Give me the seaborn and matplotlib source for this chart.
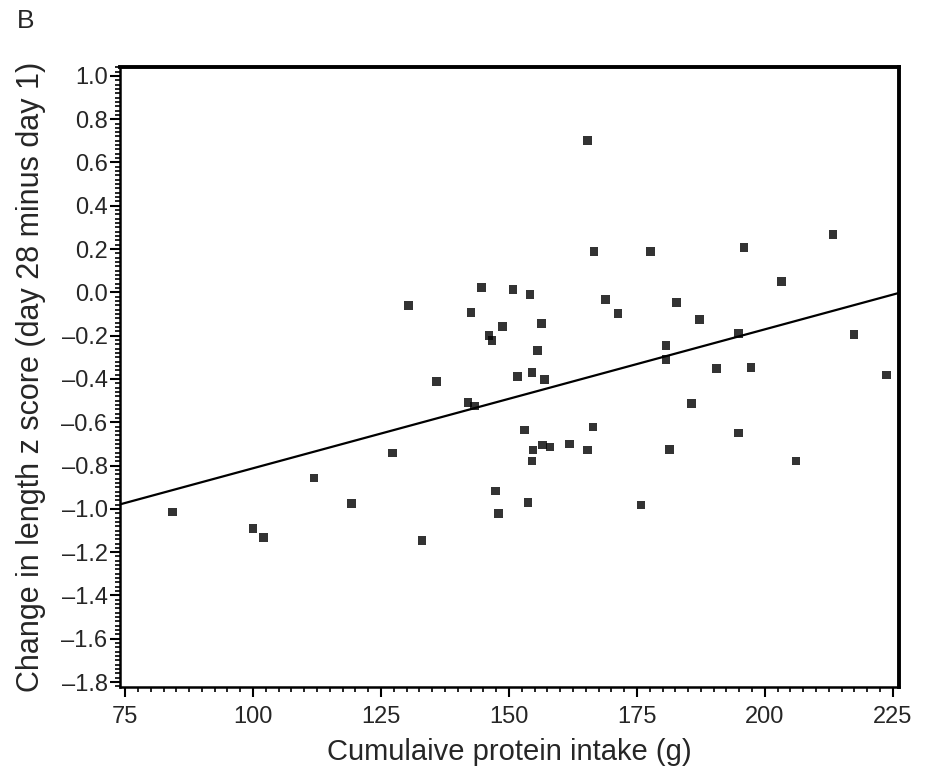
import matplotlib
matplotlib.use("Agg")
import matplotlib.pyplot as plt
from matplotlib.ticker import MultipleLocator
import seaborn as sns
import pandas as pd

protein_intake = [84.2, 100.0, 102.0, 111.9, 119.3, 127.3, 133.0, 135.9, 130.3,
                  165.4, 166.6, 177.7, 195.9, 213.3, 203.3, 144.7, 150.8, 154.1,
                  142.6, 168.8, 171.3, 182.8, 187.3, 217.4, 148.8, 156.4, 146.1,
                  146.7, 155.5, 180.7, 180.7, 194.9, 190.6, 197.3, 223.8, 151.6,
                  154.5, 157.0, 142.0, 143.2, 185.7, 153.1, 166.4, 194.9, 154.7,
                  156.6, 158.0, 161.9, 165.4, 181.4, 154.5, 206.1, 147.3, 153.7,
                  147.9, 175.8]
z_change = [-1.014, -1.092, -1.134, -0.857, -0.977, -0.742, -1.147, -0.410, -0.060,
            0.700, 0.189, 0.189, 0.207, 0.267, 0.051, 0.023, 0.014, -0.009,
            -0.092, -0.032, -0.097, -0.046, -0.124, -0.194, -0.157, -0.143, -0.198,
            -0.221, -0.267, -0.244, -0.309, -0.189, -0.350, -0.346, -0.382, -0.387,
            -0.369, -0.401, -0.507, -0.525, -0.512, -0.636, -0.622, -0.650, -0.728,
            -0.705, -0.714, -0.700, -0.728, -0.724, -0.779, -0.779, -0.917, -0.972,
            -1.023, -0.982]

x_ticks = [75, 100, 125, 150, 175, 200, 225]
y_ticks = [1.0, 0.8, 0.6, 0.4, 0.2, 0.0, -0.2, -0.4, -0.6, -0.8, -1.0, -1.2, -1.4, -1.6, -1.8]

df = pd.DataFrame({"protein": protein_intake, "dz": z_change})

sns.set_theme(style="ticks")
plt.rcParams["font.family"] = ["Liberation Sans", "DejaVu Sans"]
text_color = "#262626"

fig = plt.figure(figsize=(9.31, 7.71), dpi=100)
ax = fig.add_axes([0.1289, 0.1089, 0.8367, 0.8042])
ax.set_xlim(74.0, 226.2)
ax.set_ylim(-1.823, 1.041)

sns.regplot(data=df, x="protein", y="dz", ax=ax, ci=None, truncate=False,
            marker="s",
            scatter_kws=dict(s=40, color="black", edgecolor="none"),
            line_kws=dict(color="black", linewidth=1.6))

ax.set_xlim(74.0, 226.2)
ax.set_ylim(-1.823, 1.041)
ax.set_xticks(x_ticks)
ax.set_yticks(y_ticks)
ax.set_yticklabels([f"{v:.1f}".replace("-", "\u2013") for v in y_ticks])
ax.xaxis.set_minor_locator(MultipleLocator(2.5))
ax.yaxis.set_minor_locator(MultipleLocator(0.02))
ax.tick_params(which="major", direction="out", length=7, width=1.5,
               labelsize=17, colors="black", labelcolor=text_color)
ax.tick_params(axis="y", which="major", pad=2)
ax.tick_params(axis="x", which="major", pad=7)
ax.tick_params(which="minor", direction="out", length=3.5, width=1.2, colors="black")

for side in ["left", "bottom"]:
    ax.spines[side].set_linewidth(1.8)
for side in ["top", "right"]:
    ax.spines[side].set_visible(True)
    ax.spines[side].set_linewidth(2.8)
for sp in ax.spines.values():
    sp.set_color("black")

ax.set_xlabel("Cumulaive protein intake (g)", fontsize=21, color=text_color, labelpad=7)
ax.set_ylabel("Change in length z score (day 28 minus day 1)", fontsize=22,
              color=text_color, labelpad=11)

fig.text(0.018, 0.9637, "B", fontsize=19, color=text_color, va="baseline", ha="left")

fig.savefig("out.png", dpi=100, facecolor="white")
